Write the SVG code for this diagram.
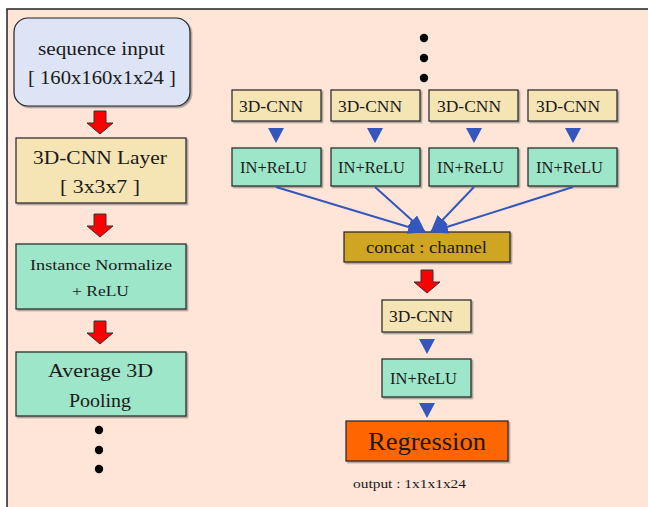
<svg xmlns="http://www.w3.org/2000/svg" width="648" height="507" viewBox="0 0 648 507">
  <style>
    text { font-family: "Liberation Serif", "DejaVu Serif", serif; fill: #1a1a1a; }
    .box { stroke: #222; stroke-width: 1.2; filter: url(#shade); }
    .input { fill: #DDE4F6; }
    .cnn { fill: #F5E4B4; }
    .norm { fill: #9EE6C9; }
    .concat { fill: #CFA520; }
    .reg { fill: #FF6600; }
    .red { fill: #FF0000; stroke: #333; stroke-width: 1; }
    .tri { fill: #3457BE; }
    .link { stroke: #3457BE; stroke-width: 2; fill: none; }
    .dot { fill: #000; }
  </style>
  <defs>
    <filter id="shade" x="-5%" y="-5%" width="115%" height="130%">
      <feDropShadow dx="1.5" dy="1.5" stdDeviation="0.5" flood-color="#666" flood-opacity="0.6"/>
    </filter>
    <marker id="head" viewBox="0 0 18 14" refX="17" refY="7" markerWidth="18" markerHeight="14" markerUnits="userSpaceOnUse" orient="auto">
      <path d="M0,0 L18,7 L0,14 Z" fill="#3457BE"/>
    </marker>
    <!-- block arrow pointing down, origin at its top centre -->
    <polygon id="redArrow" points="-6,0 6,0 6,12 13,12 0,23 -13,12 -6,12 -6,0"/>
    <polygon id="blueTri" points="-8,0 8,0 0,15"/>
  </defs>

  <!-- panel -->
  <rect x="0" y="0" width="648" height="507" fill="#FFFFFF"/>
  <rect x="7" y="9" width="645" height="502" fill="#FEE5D8" stroke="#222" stroke-width="1.5"/>

  <!-- left column -->
  <g id="input">
    <rect class="box input" x="14" y="18" width="176" height="88" rx="14"/>
    <text x="38" y="55" font-size="18" textLength="127" lengthAdjust="spacingAndGlyphs">sequence input</text>
    <text x="28" y="84" font-size="18" textLength="148" lengthAdjust="spacingAndGlyphs">[ 160x160x1x24 ]</text>
  </g>
  <g id="cnn-layer">
    <rect class="box cnn" x="16" y="138" width="170" height="65"/>
    <text x="33" y="164" font-size="18" textLength="134" lengthAdjust="spacingAndGlyphs">3D-CNN Layer</text>
    <text x="60" y="193" font-size="18" textLength="80" lengthAdjust="spacingAndGlyphs">[ 3x3x7 ]</text>
  </g>
  <g id="instance-norm">
    <rect class="box norm" x="16" y="244" width="170" height="65"/>
    <text x="30" y="270" font-size="15.5" textLength="142" lengthAdjust="spacingAndGlyphs">Instance Normalize</text>
    <text x="72" y="296" font-size="15.5" textLength="57" lengthAdjust="spacingAndGlyphs">+ ReLU</text>
  </g>
  <g id="avg-pool">
    <rect class="box norm" x="16" y="352" width="170" height="64"/>
    <text x="48" y="377" font-size="19" textLength="105" lengthAdjust="spacingAndGlyphs">Average 3D</text>
    <text x="69" y="407" font-size="19" textLength="62" lengthAdjust="spacingAndGlyphs">Pooling</text>
  </g>
  <g id="left-dots">
    <circle class="dot" cx="99" cy="430" r="4.2"/>
    <circle class="dot" cx="99" cy="450" r="4.2"/>
    <circle class="dot" cx="99" cy="469" r="4.2"/>
  </g>

  <!-- right column -->
  <g id="top-dots">
    <circle class="dot" cx="424" cy="38" r="4.2"/>
    <circle class="dot" cx="424" cy="58" r="4.2"/>
    <circle class="dot" cx="424" cy="78" r="4.2"/>
  </g>

  <g id="branch1">
    <rect class="box cnn" x="232" y="90" width="89" height="31"/>
    <text x="239" y="112" font-size="16" textLength="64" lengthAdjust="spacingAndGlyphs">3D-CNN</text>
    <rect class="box norm" x="232" y="148" width="89" height="38"/>
    <text x="240" y="173" font-size="16" textLength="67" lengthAdjust="spacingAndGlyphs">IN+ReLU</text>
  </g>
  <g id="branch2">
    <rect class="box cnn" x="331" y="90" width="89" height="31"/>
    <text x="338" y="112" font-size="16" textLength="64" lengthAdjust="spacingAndGlyphs">3D-CNN</text>
    <rect class="box norm" x="331" y="148" width="89" height="38"/>
    <text x="338" y="173" font-size="16" textLength="67" lengthAdjust="spacingAndGlyphs">IN+ReLU</text>
  </g>
  <g id="branch3">
    <rect class="box cnn" x="429" y="90" width="89" height="31"/>
    <text x="437" y="112" font-size="16" textLength="64" lengthAdjust="spacingAndGlyphs">3D-CNN</text>
    <rect class="box norm" x="429" y="148" width="89" height="38"/>
    <text x="437" y="173" font-size="16" textLength="67" lengthAdjust="spacingAndGlyphs">IN+ReLU</text>
  </g>
  <g id="branch4">
    <rect class="box cnn" x="528" y="90" width="89" height="31"/>
    <text x="536" y="112" font-size="16" textLength="64" lengthAdjust="spacingAndGlyphs">3D-CNN</text>
    <rect class="box norm" x="528" y="148" width="89" height="38"/>
    <text x="536" y="173" font-size="16" textLength="67" lengthAdjust="spacingAndGlyphs">IN+ReLU</text>
  </g>

  <g id="concat">
    <rect class="box concat" x="344" y="232" width="166" height="30"/>
    <text x="366" y="253" font-size="16" textLength="121" lengthAdjust="spacingAndGlyphs">concat : channel</text>
  </g>
  <g id="merge-cnn">
    <rect class="box cnn" x="382" y="300" width="89" height="32"/>
    <text x="389" y="322" font-size="16" textLength="64" lengthAdjust="spacingAndGlyphs">3D-CNN</text>
  </g>
  <g id="merge-norm">
    <rect class="box norm" x="382" y="359" width="89" height="38"/>
    <text x="390" y="384" font-size="16" textLength="67" lengthAdjust="spacingAndGlyphs">IN+ReLU</text>
  </g>
  <g id="regression">
    <rect class="box reg" x="346" y="421" width="162" height="40"/>
    <text x="368" y="450" font-size="26" textLength="118" lengthAdjust="spacingAndGlyphs">Regression</text>
  </g>
  <text id="output-size" x="353" y="488" font-size="13" textLength="113" lengthAdjust="spacingAndGlyphs">output : 1x1x1x24</text>

  <!-- connectors -->
  <g id="connectors">
    <use href="#redArrow" class="red" x="100" y="111"/>
    <use href="#redArrow" class="red" x="100" y="214"/>
    <use href="#redArrow" class="red" x="100" y="321"/>
    <use href="#redArrow" class="red" x="427" y="270"/>

    <use href="#blueTri" class="tri" x="276" y="128"/>
    <use href="#blueTri" class="tri" x="375" y="128"/>
    <use href="#blueTri" class="tri" x="474" y="128"/>
    <use href="#blueTri" class="tri" x="573" y="128"/>
    <use href="#blueTri" class="tri" x="427" y="339"/>
    <use href="#blueTri" class="tri" x="427" y="403"/>

    <line class="link" x1="276" y1="187" x2="425" y2="232" marker-end="url(#head)"/>
    <line class="link" x1="375" y1="187" x2="425" y2="232" marker-end="url(#head)"/>
    <line class="link" x1="474" y1="187" x2="431" y2="232" marker-end="url(#head)"/>
    <line class="link" x1="573" y1="187" x2="431" y2="232" marker-end="url(#head)"/>
  </g>
</svg>
